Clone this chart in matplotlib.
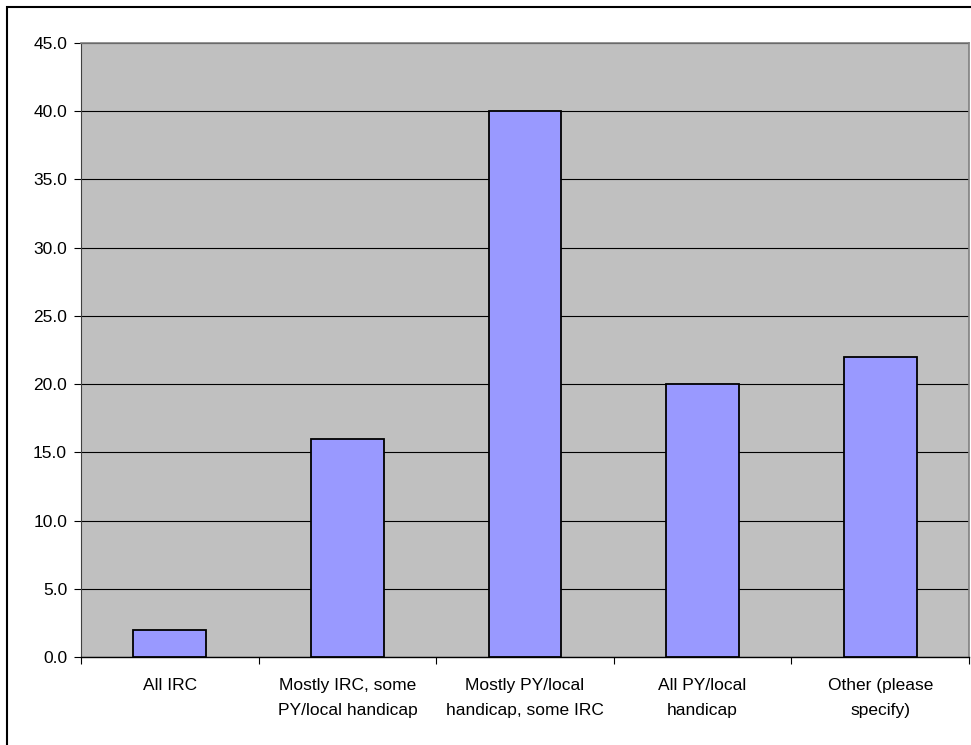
import matplotlib
matplotlib.use('Agg')
import matplotlib.pyplot as plt
import numpy as np
from matplotlib.patches import Rectangle

plt.rcParams['font.family'] = ['Liberation Sans', 'DejaVu Sans']

categories = ['All IRC',
              'Mostly IRC, some\nPY/local handicap',
              'Mostly PY/local\nhandicap, some IRC',
              'All PY/local\nhandicap',
              'Other (please\nspecify)']
values = [2.0, 16.0, 40.0, 20.0, 22.0]
y_ticks = np.arange(0, 50, 5)

W, H = 971, 745
fig = plt.figure(figsize=(W / 100, H / 100), dpi=100)

# outer chart frame
fig.patches.append(Rectangle((7 / W, -0.1), 1.2, 1 - 7 / H + 0.1,
                             transform=fig.transFigure, fill=False,
                             edgecolor='black', linewidth=1.5))

left, right, top, bottom = 81, 969, 43, 657
ax = fig.add_axes([left / W, 1 - bottom / H, (right - left) / W, (bottom - top) / H])
ax.set_facecolor('#C0C0C0')

x = np.arange(len(categories))
ax.bar(x, values, width=0.41, color='#9999FF', edgecolor='black', linewidth=1.3, zorder=3)

ax.set_xlim(-0.5, len(categories) - 0.5)
ax.set_ylim(0, 45)
ax.set_yticks(y_ticks)
ax.set_yticklabels([f'{v:.1f}' for v in y_ticks])
ax.yaxis.grid(True, color='black', linewidth=0.8, zorder=1)
ax.set_axisbelow(True)

# category ticks sit between the bars
ax.set_xticks(np.arange(len(categories) + 1) - 0.5)
ax.set_xticklabels([])
ax.set_xticks(x, minor=True)
ax.set_xticklabels(categories, minor=True, fontsize=12.5, linespacing=1.85)
ax.tick_params(axis='x', which='minor', length=0, pad=15)
ax.tick_params(axis='x', which='major', length=5, direction='out', color='black')
ax.tick_params(axis='y', length=5, direction='out', pad=5, labelsize=12.5)

for side in ['top', 'right']:
    ax.spines[side].set_color('#808080')
    ax.spines[side].set_linewidth(1.2)
ax.spines['left'].set_color('#404040')
ax.spines['bottom'].set_color('black')
ax.spines['bottom'].set_linewidth(1.0)

fig.savefig('out.png', dpi=100)
